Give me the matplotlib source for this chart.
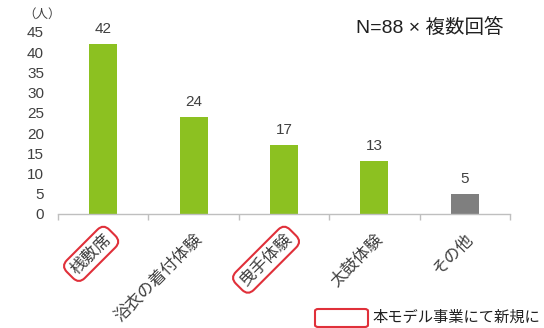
import numpy as np
import matplotlib
matplotlib.use("Agg")
import matplotlib.pyplot as plt
import matplotlib.transforms as mtransforms
from matplotlib.patches import FancyBboxPatch

plt.rcParams['font.family'] = ['Liberation Sans', 'Noto Sans CJK JP', 'DejaVu Sans']

categories = ['桟敷席', '浴衣の着付体験', '曳手体験', '太鼓体験', 'その他']
values = [42, 24, 17, 13, 5]
is_new = [True, False, True, False, False]
bar_colors = ['#8cc121', '#8cc121', '#8cc121', '#8cc121', '#7f7f7f']
yticks = list(range(0, 50, 5))

txt_color = '#404040'
red = '#e0303a'

fig = plt.figure(figsize=(5.44, 3.28), dpi=100)
ax = fig.add_axes([0.1066, 0.3476, 0.8309, 0.5549])

x = np.arange(len(categories))
ax.bar(x, values, width=0.31, color=bar_colors, zorder=2)
for xi, v in zip(x, values):
    ax.text(xi, v + 2.0, str(v), ha='center', va='bottom', fontsize=11, color=txt_color)

ax.set_xlim(-0.5, len(categories) - 0.5)
ax.set_ylim(0, 45)
ax.set_yticks(yticks)
ax.tick_params(axis='y', length=0, labelsize=11, labelcolor=txt_color, pad=10)
ax.set_xticks(np.arange(-0.5, len(categories), 1.0))
ax.set_xticklabels([])
ax.tick_params(axis='x', length=4, color='#bfbfbf', width=1)
for s in ['top', 'right', 'left']:
    ax.spines[s].set_visible(False)
ax.spines['bottom'].set_color('#bfbfbf')
ax.spines['bottom'].set_linewidth(1)

# rotated category labels
for xi, name, new in zip(x, categories, is_new):
    trans = mtransforms.blended_transform_factory(ax.transData, ax.transAxes) + \
        mtransforms.ScaledTranslation(4 / 72, -16 / 72, fig.dpi_scale_trans)
    kw = {}
    if new:
        kw['bbox'] = dict(boxstyle='round,pad=0.3,rounding_size=0.5', fc='white', ec=red, lw=1.5)
    ax.text(xi, 0, name, rotation=45, rotation_mode='anchor', ha='right', va='center',
            fontsize=12, color=txt_color, transform=trans, **kw)

# unit label and note
fig.text(0.042, 0.955, '（人）', fontsize=9, color=txt_color, ha='left', va='center')
fig.text(356 / 544, 0.915, 'N=88 × 複数回答', fontsize=14, color='#202020', ha='left', va='center')

# legend for red boxes
fig.patches.append(FancyBboxPatch((315 / 544, 1 - 327 / 328), 53 / 544, 18 / 328,
                                  boxstyle='round,pad=0,rounding_size=0.006', fc='white',
                                  ec=red, lw=1.5, transform=fig.transFigure, figure=fig))
fig.text(373 / 544, 1 - 318 / 328, '本モデル事業にて新規に', fontsize=11, color='#202020',
         ha='left', va='center')

fig.savefig('out.png', dpi=100)
